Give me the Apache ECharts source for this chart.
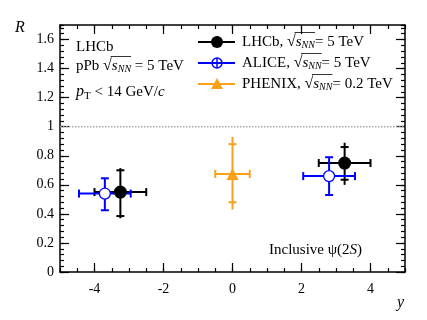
<!DOCTYPE html>
<html>
<head>
<meta charset="utf-8">
<script src="https://cdn.jsdelivr.net/npm/echarts@6/dist/echarts.min.js"></script>
<style>
  html, body { margin: 0; background: #fff; }
  #chart { width: 427px; height: 320px; }
</style>
</head>
<body>
<div id="chart"></div>
<script>
// psi(2S)/J/psi double ratio vs rapidity, LHCb vs ALICE vs PHENIX

const SERIF = '"Liberation Serif", "Times New Roman", serif';
const BLACK = '#000000';
const BLUE = '#0000ff';
const ORANGE = '#f9a11b';

// axis ticks
const xMajorTicks = [-4, -2, 0, 2, 4];
const yMajorTicks = [0, 0.2, 0.4, 0.6, 0.8, 1, 1.2, 1.4, 1.6];

// LHCb: bar = total uncertainty, small tick = stat part
const lhcbX = [-3.25, 3.25];
const lhcbY = [0.55, 0.75];
const lhcbXErr = [0.75, 0.75];
const lhcbTotLo = [0.18, 0.15];
const lhcbTotHi = [0.165, 0.14];
const lhcbStatLo = [0.165, 0.115];
const lhcbStatHi = [0.15, 0.11];

// ALICE: capped bars
const aliceX = [-3.7, 2.8];
const aliceY = [0.54, 0.66];
const aliceXErr = [0.75, 0.75];
const aliceLo = [0.115, 0.13];
const aliceHi = [0.105, 0.13];

// PHENIX
const phenixX = [0];
const phenixY = [0.675];
const phenixXErr = [0.5];
const phenixTotLo = [0.245];
const phenixTotHi = [0.255];
const phenixStatLo = [0.195];
const phenixStatHi = [0.205];

// R = 1 reference
const refX = [-5, 5];
const refY = [1, 1];

const chart = echarts.init(document.getElementById('chart'));

function errBars(color) {
  return function (params, api) {
    const x = api.value(0), y = api.value(1), dx = api.value(2);
    const lo = api.value(3), hi = api.value(4), sLo = api.value(5), sHi = api.value(6);
    const c = api.coord([x, y]);
    const l = api.coord([x - dx, y]);
    const r = api.coord([x + dx, y]);
    const t = api.coord([x, y + hi]);
    const b = api.coord([x, y - lo]);
    const st = api.coord([x, y + sHi]);
    const sb = api.coord([x, y - sLo]);
    const w = 4;
    const seg = (x1, y1, x2, y2) => ({
      type: 'line', shape: { x1, y1, x2, y2 }, style: { stroke: color, lineWidth: 2 },
    });
    return {
      type: 'group',
      children: [
        seg(l[0], c[1], r[0], c[1]),
        seg(c[0], t[1], c[0], b[1]),
        seg(l[0], c[1] - w, l[0], c[1] + w),
        seg(r[0], c[1] - w, r[0], c[1] + w),
        seg(c[0] - w, st[1], c[0] + w, st[1]),
        seg(c[0] - w, sb[1], c[0] + w, sb[1]),
      ],
    };
  };
}

// text pieces with sub/superscripts, measured so they line up
const mctx = document.createElement('canvas').getContext('2d');
function fnt(size, italic) { return (italic ? 'italic ' : '') + size + 'px ' + SERIF; }
function richLine(x, y, parts) {
  const els = [];
  let cx = x;
  let overStart = null;
  parts.forEach((p) => {
    const f = fnt(p.size, p.italic);
    mctx.font = f;
    const w = mctx.measureText(p.t).width;
    if (p.over && overStart === null) overStart = cx + (p.pad || 0);
    els.push({
      type: 'text', x: cx, y: y + (p.dy || 0),
      style: { text: p.t, font: f, fill: BLACK, align: 'left', textAlign: 'left', verticalAlign: 'middle', textVerticalAlign: 'middle' },
    });
    cx += w;
    if (p.overEnd) {
      els.push({ type: 'line', shape: { x1: overStart, y1: y - 9.5, x2: cx, y2: y - 9.5 }, style: { stroke: BLACK, lineWidth: 0.8 } });
      overStart = null;
    }
  });
  return els;
}
function sqrtS(size) {
  return [
    { t: '\u221A', size: size + 1, over: true, pad: 7.5 },
    { t: 's', size: size, italic: true },
    { t: 'NN', size: size - 5, italic: true, dy: 3, overEnd: true },
  ];
}

function legendRow(y, color, kind) {
  const els = [{ type: 'line', shape: { x1: 198, y1: y, x2: 235, y2: y }, style: { stroke: color, lineWidth: 2 } }];
  if (kind === 'filled') {
    els.push({ type: 'circle', shape: { cx: 217, cy: y, r: 6 }, style: { fill: color } });
  } else if (kind === 'open') {
    els.push({ type: 'circle', shape: { cx: 217, cy: y, r: 5 }, style: { fill: 'none', stroke: color, lineWidth: 1.5 } });
    els.push({ type: 'line', shape: { x1: 217, y1: y - 5, x2: 217, y2: y + 5 }, style: { stroke: color, lineWidth: 1.5 } });
  } else {
    els.push({ type: 'polygon', shape: { points: [[217, y - 6], [211, y + 5], [223, y + 5]] }, style: { fill: color } });
  }
  return els;
}

const FS = 15;
const graphics = [].concat(
  richLine(76, 47, [{ t: 'LHCb', size: FS }]),
  richLine(76, 66, [{ t: 'pPb ', size: FS }].concat(sqrtS(FS), [{ t: ' = 5 TeV', size: FS }])),
  richLine(76, 92, [
    { t: 'p', size: FS + 1, italic: true },
    { t: 'T', size: FS - 4, dy: 4 },
    { t: ' < 14 GeV/', size: FS },
    { t: 'c', size: FS, italic: true },
  ]),
  legendRow(42, BLACK, 'filled'),
  legendRow(63, BLUE, 'open'),
  legendRow(84, ORANGE, 'tri'),
  richLine(242, 42, [{ t: 'LHCb, ', size: FS }].concat(sqrtS(FS), [{ t: '= 5 TeV', size: FS }])),
  richLine(242, 63, [{ t: 'ALICE, ', size: FS }].concat(sqrtS(FS), [{ t: '= 5 TeV', size: FS }])),
  richLine(242, 84, [{ t: 'PHENIX, ', size: FS }].concat(sqrtS(FS), [{ t: '= 0.2 TeV', size: FS }])),
  richLine(269, 250, [
    { t: 'Inclusive \u03C8(2', size: FS },
    { t: 'S', size: FS, italic: true },
    { t: ')', size: FS },
  ]),
  richLine(15, 28, [{ t: 'R', size: 16, italic: true }]),
  richLine(397, 303, [{ t: 'y', size: 16, italic: true }])
);

const axisLine = { show: true, onZero: false, lineStyle: { color: BLACK, width: 1.5 } };
const noLine = { show: false, onZero: false };
function xAxisPair(position, labels) {
  return [
    {
      type: 'value', position, min: -5, max: 5, interval: 0.5,
      axisLine, splitLine: { show: false },
      axisTick: { inside: true, length: 4, lineStyle: { color: BLACK, width: 1.2 } },
      axisLabel: { show: false },
    },
    {
      type: 'value', position, min: -5, max: 5,
      axisLine: noLine, splitLine: { show: false },
      axisTick: { inside: true, length: 9, customValues: xMajorTicks, lineStyle: { color: BLACK, width: 1.2 } },
      axisLabel: {
        show: labels, customValues: xMajorTicks, margin: 10,
        fontFamily: SERIF, fontSize: 14, color: BLACK,
      },
    },
  ];
}
function yAxisPair(position, labels) {
  return [
    {
      type: 'value', position, min: 0, max: 1.7, interval: 0.04,
      axisLine, splitLine: { show: false },
      axisTick: { inside: true, length: 4, lineStyle: { color: BLACK, width: 1.2 } },
      axisLabel: { show: false },
    },
    {
      type: 'value', position, min: 0, max: 1.7,
      axisLine: noLine, splitLine: { show: false },
      axisTick: { inside: true, length: 9, customValues: yMajorTicks, lineStyle: { color: BLACK, width: 1.2 } },
      axisLabel: {
        show: labels, customValues: yMajorTicks, margin: 6,
        fontFamily: SERIF, fontSize: 14, color: BLACK,
        formatter: (v) => String(Math.round(v * 10) / 10),
      },
    },
  ];
}

const zip = (...cols) => cols[0].map((_, i) => cols.map((c) => c[i]));

chart.setOption({
  animation: false,
  backgroundColor: '#fff',
  grid: { left: 60, right: 22, top: 25, bottom: 48 },
  xAxis: xAxisPair('bottom', true).concat(xAxisPair('top', false)),
  yAxis: yAxisPair('left', true).concat(yAxisPair('right', false)),
  graphic: graphics,
  series: [
    {
      type: 'line', data: zip(refX, refY), symbol: 'none', z: 1,
      lineStyle: { color: '#aaaaaa', width: 1.5, type: 'dotted' },
    },
    {
      type: 'custom', renderItem: errBars(BLACK), z: 2,
      encode: { x: 0, y: 1 },
      data: zip(lhcbX, lhcbY, lhcbXErr, lhcbTotLo, lhcbTotHi, lhcbStatLo, lhcbStatHi),
    },
    {
      type: 'custom', renderItem: errBars(BLUE), z: 3,
      encode: { x: 0, y: 1 },
      data: zip(aliceX, aliceY, aliceXErr, aliceLo, aliceHi, aliceLo, aliceHi),
    },
    {
      type: 'custom', renderItem: errBars(ORANGE), z: 3,
      encode: { x: 0, y: 1 },
      data: zip(phenixX, phenixY, phenixXErr, phenixTotLo, phenixTotHi, phenixStatLo, phenixStatHi),
    },
    {
      type: 'scatter', data: zip(aliceX, aliceY), symbol: 'circle', symbolSize: 11, z: 4,
      itemStyle: { color: '#fff', borderColor: BLUE, borderWidth: 1.3, opacity: 1 },
    },
    {
      type: 'scatter', data: zip(phenixX, phenixY), symbol: 'triangle', symbolSize: 12, z: 4,
      itemStyle: { color: ORANGE, opacity: 1 },
    },
    {
      type: 'scatter', data: zip(lhcbX, lhcbY), symbol: 'circle', symbolSize: 13, z: 5,
      itemStyle: { color: BLACK, opacity: 1 },
    },
  ],
});
</script>
</body>
</html>
